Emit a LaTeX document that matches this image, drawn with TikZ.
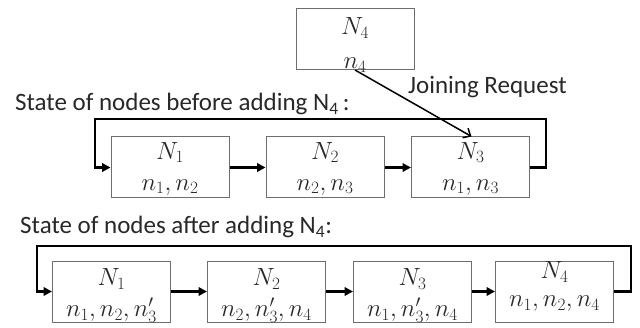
\documentclass[tikz,border=0pt]{standalone}
\usepackage{fontspec}
\setmainfont{Carlito}
\usetikzlibrary{arrows.meta}
\definecolor{txt}{RGB}{40,40,40}
\definecolor{edge}{RGB}{110,110,110}
\tikzset{
  nodebox/.style={draw=edge, line width=1pt, minimum width=118pt, minimum height=61pt, inner sep=0pt, fill=white},
  lbl/.style={text=txt, align=center, inner sep=0pt, font=\fontsize{26.5}{31}\selectfont},
  captxt/.style={text=txt, anchor=west, inner sep=0pt, font=\fontsize{25}{30}\selectfont},
  linkarrow/.style={line width=2.2pt, -{Triangle[length=8.5pt,width=8.5pt]}},
  ringarrow/.style={line width=2.7pt, -{Triangle[length=8.5pt,width=8.5pt]}},
  joinarrow/.style={line width=1.5pt, -{Straight Barb[length=6pt,width=11pt]}}
}
\begin{document}
\begin{tikzpicture}[x=1pt,y=1pt]
\useasboundingbox (0,0) rectangle (640,327);
% top new node
\node[nodebox] (t4) at (355,288) {};
\node[lbl, font=\fontsize{26.5}{34}\selectfont] (t4t) at ([yshift=-6pt]t4.center) {$N_4$\\$n_4$};
% captions
\node[captxt] (c1) at (15,223) {State of nodes before adding N\textsubscript{4}\,:};
\node[captxt] (c2) at (20,100) {State of nodes after adding N\textsubscript{4}:};
\node[captxt] (jr) at (408,240) {Joining Request};
% middle row
\node[nodebox] (m1) at (170,159.5) {};
\node[nodebox] (m2) at (325,159.5) {};
\node[nodebox] (m3) at (470.5,159.5) {};
\node[lbl] (m1t) at ([yshift=-1pt]m1.center) {$N_1$\\$n_1,n_2$};
\node[lbl] (m2t) at ([yshift=-1pt]m2.center) {$N_2$\\$n_2,n_3$};
\node[lbl] (m3t) at ([yshift=-1pt]m3.center) {$N_3$\\$n_1,n_3$};
\draw[linkarrow] (m1.east) -- (m2.west);
\draw[linkarrow] (m2.east) -- (m3.west);
\coordinate (mr) at (546,208);
\coordinate (ml) at (95,208);
\draw[ringarrow] (m3.east) -- (m3.east -| mr) -- (mr) -- (ml) -- (ml |- m1.west) -- (m1.west);
\draw[joinarrow] (t4.south) -- ([xshift=1pt]m3.north);
% bottom row
\node[nodebox] (b1) at (111.5,35.5) {};
\node[nodebox] (b2) at (266.5,35.5) {};
\node[nodebox] (b3) at (412.5,35.5) {};
\node[nodebox] (b4) at (554.5,35.5) {};
\node[lbl] (b1t) at ([yshift=-4pt]b1.center) {$N_1$\\$n_1,n_2,n_3'$};
\node[lbl] (b2t) at ([yshift=-4pt]b2.center) {$N_2$\\$n_2,n_3',n_4$};
\node[lbl] (b3t) at ([yshift=-4pt]b3.center) {$N_3$\\$n_1,n_3',n_4$};
\node[lbl, font=\fontsize{26.5}{28}\selectfont] (b4t) at ([yshift=5pt]b4.center) {$N_4$\\$n_1,n_2,n_4$};
\draw[linkarrow] (b1.east) -- (b2.west);
\draw[linkarrow] (b2.east) -- (b3.west);
\draw[linkarrow] (b3.east) -- (b4.west);
\coordinate (br) at (631,81);
\coordinate (bl) at (37,81);
\draw[ringarrow] (b4.east) -- (b4.east -| br) -- (br) -- (bl) -- (bl |- b1.west) -- (b1.west);
\end{tikzpicture}
\end{document}
